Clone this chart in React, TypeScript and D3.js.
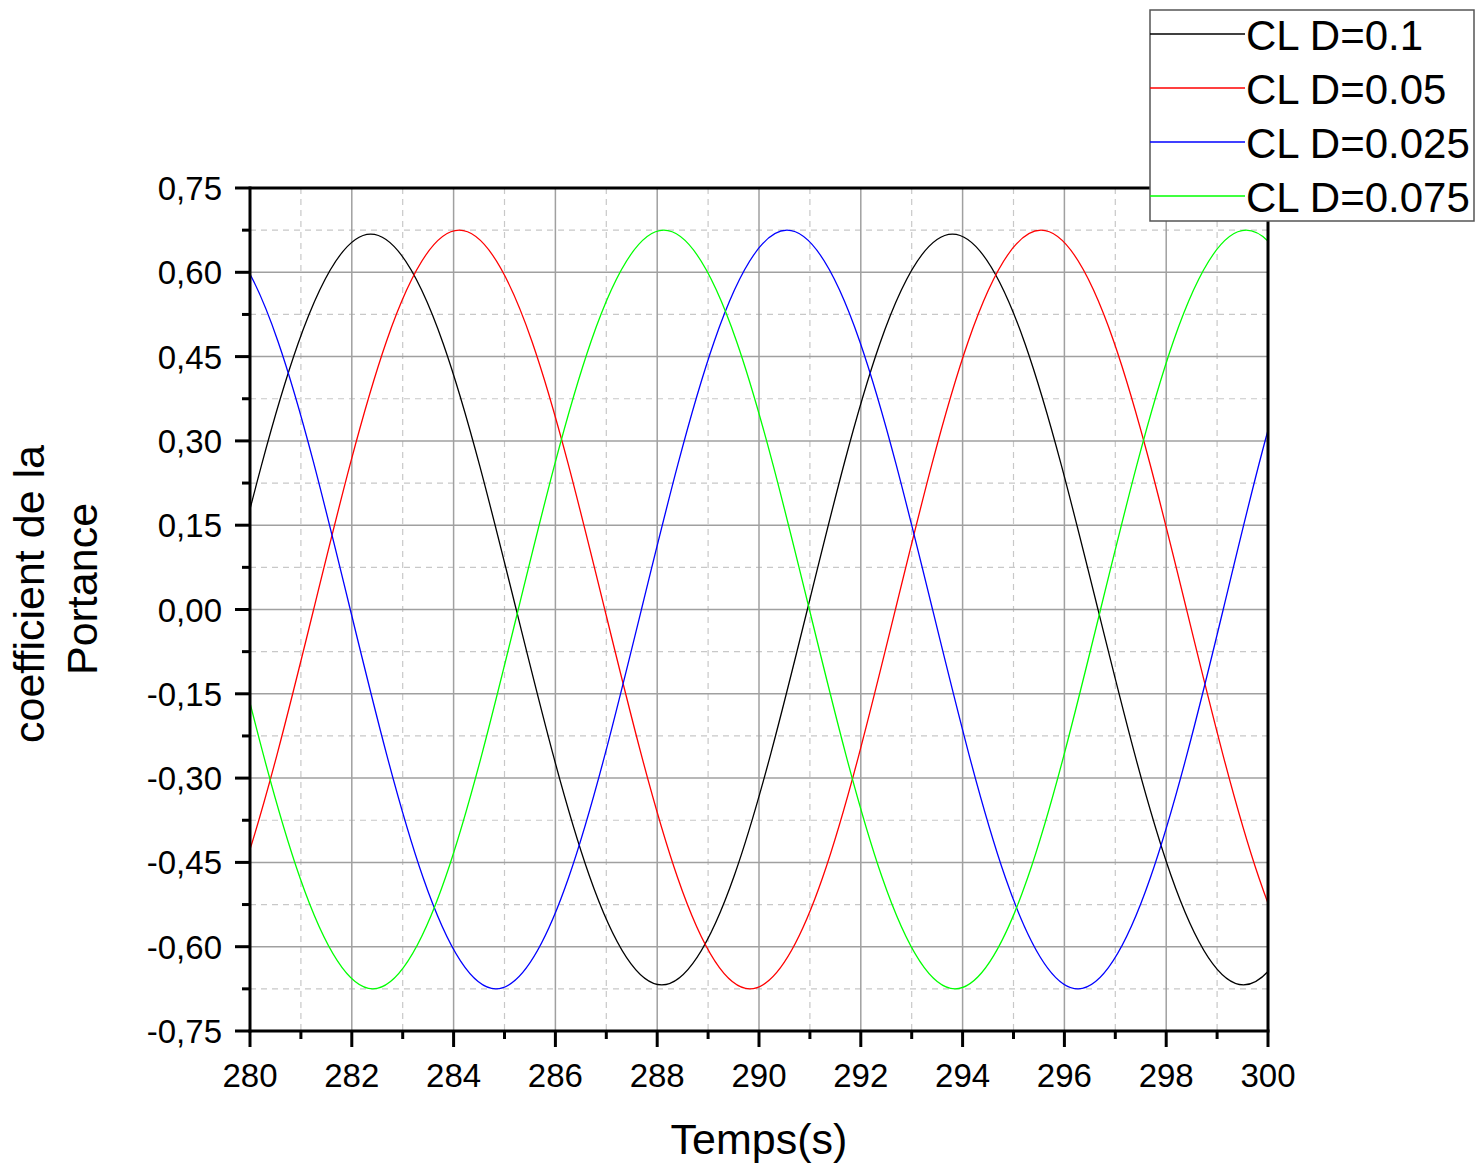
import React from "react";
import * as d3 from "d3";

// Time ticks and value ticks
const xMajorTicks = [280, 282, 284, 286, 288, 290, 292, 294, 296, 298, 300];
const xMinorTicks = [281, 283, 285, 287, 289, 291, 293, 295, 297, 299];
const yMajorTicks = [0.75, 0.6, 0.45, 0.3, 0.15, 0, -0.15, -0.3, -0.45, -0.6, -0.75];
const yMinorTicks = [0.675, 0.525, 0.375, 0.225, 0.075, -0.075, -0.225, -0.375, -0.525, -0.675];

// Series: [time (s), CL]
const seriesD01: [number, number][] = [
  [276.65, -0.668], [278.08, -0.472], [279.51, 0], [280.94, 0.472], [282.37, 0.668], [283.8, 0.472],
  [285.23, 0], [286.66, -0.472], [288.09, -0.668], [289.52, -0.472], [290.95, 0],
  [292.37, 0.472], [293.8, 0.668], [295.23, 0.472], [296.66, 0], [298.09, -0.472],
  [299.52, -0.668], [300.95, -0.472], [302.38, 0],
];
const seriesD005: [number, number][] = [
  [276.97, -0.477], [278.39, -0.675], [279.82, -0.477], [281.25, 0], [282.68, 0.477], [284.11, 0.675],
  [285.54, 0.477], [286.97, 0], [288.4, -0.477], [289.82, -0.675], [291.25, -0.477],
  [292.68, 0], [294.11, 0.477], [295.54, 0.675], [296.97, 0.477], [298.4, 0],
  [299.82, -0.477], [301.25, -0.675], [302.68, -0.477],
];
const seriesD0025: [number, number][] = [
  [276.26, 0], [277.69, 0.477], [279.12, 0.675], [280.55, 0.477], [281.97, 0], [283.4, -0.477],
  [284.83, -0.675], [286.26, -0.477], [287.69, 0], [289.12, 0.477], [290.55, 0.675],
  [291.98, 0.477], [293.41, 0], [294.84, -0.477], [296.27, -0.675], [297.69, -0.477],
  [299.12, 0], [300.55, 0.477], [301.98, 0.675],
];
const seriesD0075: [number, number][] = [
  [276.69, 0.675], [278.12, 0.477], [279.55, 0], [280.98, -0.477], [282.41, -0.675], [283.84, -0.477],
  [285.27, 0], [286.7, 0.477], [288.13, 0.675], [289.56, 0.477], [290.99, 0],
  [292.42, -0.477], [293.85, -0.675], [295.28, -0.477], [296.71, 0], [298.14, 0.477],
  [299.57, 0.675], [301.0, 0.477], [302.43, 0],
];

const seriesNames = ["CL D=0.1", "CL D=0.05", "CL D=0.025", "CL D=0.075"];
const seriesColors = ["#000000", "#ff0000", "#0000ff", "#00ff00"];
const seriesData = [seriesD01, seriesD005, seriesD0025, seriesD0075];

const FONT = "'Liberation Sans', Arial, Helvetica, sans-serif";

export default function App() {
  const left = 250, right = 1268, top = 188, bottom = 1031;
  const x = d3.scaleLinear().domain([280, 300]).range([left, right]);
  const y = d3.scaleLinear().domain([-0.75, 0.75]).range([bottom, top]);
  const line = d3
    .line<[number, number]>()
    .x((d) => x(d[0]))
    .y((d) => y(d[1]))
    .curve(d3.curveNatural);

  const fmtY = (v: number) => d3.format(".2f")(v).replace(".", ",").replace("−", "-");

  return (
    <svg
      width={1478}
      height={1168}
      style={{ position: "absolute", left: 0, top: 0, background: "#fff" }}
      fontFamily={FONT}
    >
      <rect x={0} y={0} width={1478} height={1168} fill="#fff" />
      <defs>
        <clipPath id="plotclip">
          <rect x={left} y={top} width={right - left} height={bottom - top} />
        </clipPath>
      </defs>
      {/* minor grid */}
      {xMinorTicks.map((t) => (
        <line key={"xm" + t} x1={x(t)} x2={x(t)} y1={top} y2={bottom} stroke="#c8c8c8" strokeWidth={1.2} strokeDasharray="6,5" />
      ))}
      {yMinorTicks.map((t) => (
        <line key={"ym" + t} x1={left} x2={right} y1={y(t)} y2={y(t)} stroke="#c8c8c8" strokeWidth={1.2} strokeDasharray="6,5" />
      ))}
      {/* major grid */}
      {xMajorTicks.map((t) => (
        <line key={"xg" + t} x1={x(t)} x2={x(t)} y1={top} y2={bottom} stroke="#a0a0a0" strokeWidth={1.5} />
      ))}
      {yMajorTicks.map((t) => (
        <line key={"yg" + t} x1={left} x2={right} y1={y(t)} y2={y(t)} stroke="#a0a0a0" strokeWidth={1.5} />
      ))}
      {/* series */}
      <g clipPath="url(#plotclip)">
        {seriesData.map((s, i) => (
          <path key={i} d={line(s) || ""} fill="none" stroke={seriesColors[i]} strokeWidth={1.3} />
        ))}
      </g>
      {/* axes frame */}
      <line x1={left} x2={right} y1={top} y2={top} stroke="#000" strokeWidth={3} />
      <line x1={right} x2={right} y1={top} y2={bottom} stroke="#000" strokeWidth={3} />
      <line x1={left} x2={left} y1={top - 1.5} y2={bottom + 1.5} stroke="#000" strokeWidth={3} />
      <line x1={left - 1.5} x2={right + 1.5} y1={bottom} y2={bottom} stroke="#000" strokeWidth={3} />
      {/* y ticks */}
      {yMajorTicks.map((t) => (
        <g key={"yt" + t}>
          <line x1={left - 15} x2={left} y1={y(t)} y2={y(t)} stroke="#000" strokeWidth={3} />
          <text x={222} y={y(t) + 12} textAnchor="end" fontSize={33} fill="#000">
            {fmtY(t)}
          </text>
        </g>
      ))}
      {yMinorTicks.map((t) => (
        <line key={"ymt" + t} x1={left - 8} x2={left} y1={y(t)} y2={y(t)} stroke="#000" strokeWidth={3} />
      ))}
      {/* x ticks */}
      {xMajorTicks.map((t) => (
        <g key={"xt" + t}>
          <line x1={x(t)} x2={x(t)} y1={bottom} y2={bottom + 16} stroke="#000" strokeWidth={3} />
          <text x={x(t)} y={1087} textAnchor="middle" fontSize={33} fill="#000">
            {t}
          </text>
        </g>
      ))}
      {xMinorTicks.map((t) => (
        <line key={"xmt" + t} x1={x(t)} x2={x(t)} y1={bottom} y2={bottom + 8} stroke="#000" strokeWidth={3} />
      ))}
      {/* axis titles */}
      <text x={(left + right) / 2} y={1154} textAnchor="middle" fontSize={43} fill="#000">
        Temps(s)
      </text>
      <text transform="translate(44,594) rotate(-90)" textAnchor="middle" fontSize={43} fill="#000">
        coefficient de la
      </text>
      <text transform="translate(97,589) rotate(-90)" textAnchor="middle" fontSize={43} fill="#000">
        Portance
      </text>
      {/* legend */}
      <rect x={1150} y={10} width={324} height={211} fill="#fff" stroke="#555" strokeWidth={1.5} />
      {seriesNames.map((n, i) => {
        const ly = 34 + i * 54;
        return (
          <g key={n}>
            <line x1={1150} x2={1245} y1={ly} y2={ly} stroke={seriesColors[i]} strokeWidth={1.3} />
            <text x={1246} y={ly + 16} fontSize={42} fill="#000">
              {n}
            </text>
          </g>
        );
      })}
    </svg>
  );
}
